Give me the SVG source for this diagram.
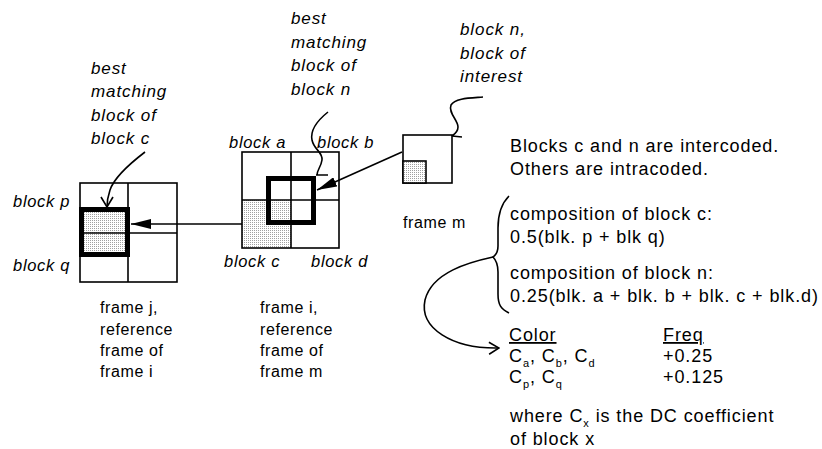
<svg xmlns="http://www.w3.org/2000/svg" width="822" height="449" viewBox="0 0 822 449">
  <defs>
    <!-- fine stipple used for shaded blocks -->
    <pattern id="dots" width="2" height="2" patternUnits="userSpaceOnUse">
      <rect width="2" height="2" fill="#fff"/>
      <rect width="1" height="1" fill="#a0a0a0"/>
    </pattern>
    <marker id="solid" viewBox="0 0 20 10" refX="20" refY="5" markerWidth="20" markerHeight="10" markerUnits="userSpaceOnUse" orient="auto">
      <path d="M0,0 L20,5 L0,10 Z" fill="#000"/>
    </marker>
    <marker id="open" viewBox="0 0 12 14" refX="11" refY="7" markerWidth="12" markerHeight="14" markerUnits="userSpaceOnUse" orient="auto">
      <path d="M1,1 L11,7 L1,13" fill="none" stroke="#000" stroke-width="1.6"/>
    </marker>
  </defs>
  <style>
    .box { fill: none; stroke: #000; stroke-width: 1.6; }
    .thick { fill: none; stroke: #000; stroke-width: 5; }
    .shade { fill: url(#dots); }
    .wire { fill: none; stroke: #000; stroke-width: 1.6; }
    text { font-family: "Liberation Sans", Arial, sans-serif; fill: #000; }
    .it { font-size: 17px; font-style: italic; letter-spacing: 0.9px; }
    .lb { font-size: 16.5px; font-style: italic; letter-spacing: 0.7px; }
    .fr { font-size: 16px; letter-spacing: 0.6px; }
    .tx { font-size: 18px; letter-spacing: 0.9px; }
    .sub { font-size: 11px; }
  </style>

  <!-- frame j -->
  <g id="frame-j">
    <rect class="shade" x="80" y="208" width="48" height="48"/>
    <rect class="box" x="80" y="183" width="97" height="99"/>
    <line class="box" x1="128" y1="183" x2="128" y2="282"/>
    <line class="box" x1="80" y1="233" x2="177" y2="233"/>
    <rect class="thick" x="81.5" y="209.5" width="46" height="45"/>
    <text class="lb" x="13" y="207">block p</text>
    <text class="lb" x="13" y="271">block q</text>
    <text class="fr" x="100" y="313">frame j,</text>
    <text class="fr" x="100" y="335">reference</text>
    <text class="fr" x="100" y="356">frame of</text>
    <text class="fr" x="100" y="377">frame i</text>
  </g>

  <!-- frame i -->
  <g id="frame-i">
    <rect class="shade" x="242" y="200" width="49" height="48"/>
    <rect class="box" x="242" y="152" width="97" height="96"/>
    <line class="box" x1="291" y1="152" x2="291" y2="248"/>
    <line class="box" x1="242" y1="200" x2="339" y2="200"/>
    <rect class="thick" x="268.5" y="178.5" width="45" height="44"/>
    <text class="lb" x="229" y="148">block a</text>
    <text class="lb" x="317" y="148">block b</text>
    <text class="lb" x="224" y="267">block c</text>
    <text class="lb" x="311" y="267">block d</text>
    <text class="fr" x="260" y="313">frame i,</text>
    <text class="fr" x="260" y="335">reference</text>
    <text class="fr" x="260" y="356">frame of</text>
    <text class="fr" x="260" y="377">frame m</text>
  </g>

  <!-- frame m -->
  <g id="frame-m">
    <rect class="box" x="403" y="135" width="49" height="48"/>
    <rect class="shade" x="403" y="161" width="23" height="22"/>
    <rect class="box" x="403" y="161" width="23" height="22"/>
    <text class="fr" x="403" y="228">frame m</text>
  </g>

  <!-- callout labels -->
  <g id="label-c">
    <text class="it" x="91" y="74">best</text>
    <text class="it" x="91" y="97">matching</text>
    <text class="it" x="91" y="121">block of</text>
    <text class="it" x="91" y="144">block c</text>
  </g>
  <g id="label-n">
    <text class="it" x="291" y="24">best</text>
    <text class="it" x="291" y="48">matching</text>
    <text class="it" x="291" y="71">block of</text>
    <text class="it" x="291" y="95">block n</text>
  </g>
  <g id="label-interest">
    <text class="it" x="460" y="35">block n,</text>
    <text class="it" x="460" y="59">block of</text>
    <text class="it" x="460" y="82">interest</text>
  </g>

  <!-- notes -->
  <g id="notes">
    <text class="tx" x="510" y="152">Blocks c and n are intercoded.</text>
    <text class="tx" x="510" y="175">Others are intracoded.</text>
    <text class="tx" x="510" y="220">composition of block c:</text>
    <text class="tx" x="510" y="243">0.5(blk. p + blk q)</text>
    <text class="tx" x="510" y="279">composition of block n:</text>
    <text class="tx" x="510" y="302">0.25(blk. a + blk. b + blk. c + blk.d)</text>
    <path class="wire" d="M509,196 C501,204 498,214 498,228 L498,246 C498,252 496,255 493,257 C496,260 498,264 498,272 L498,294 C498,305 501,309 509,313"/>
  </g>

  <!-- coefficient table -->
  <g id="table">
    <text class="tx" x="509" y="341" text-decoration="underline">Color</text>
    <text class="tx" x="663" y="341" text-decoration="underline">Freq</text>
    <text class="tx" x="509" y="362">C<tspan class="sub" dy="5">a</tspan><tspan dy="-5">, C</tspan><tspan class="sub" dy="5">b</tspan><tspan dy="-5">, C</tspan><tspan class="sub" dy="5">d</tspan></text>
    <text class="tx" x="663" y="362">+0.25</text>
    <text class="tx" x="509" y="383">C<tspan class="sub" dy="5">p</tspan><tspan dy="-5">, C</tspan><tspan class="sub" dy="5">q</tspan></text>
    <text class="tx" x="663" y="383">+0.125</text>
    <text class="tx" x="510" y="422">where C<tspan class="sub" dy="5">x</tspan><tspan dy="-5"> is the DC coefficient</tspan></text>
    <text class="tx" x="510" y="445">of block x</text>
  </g>

  <!-- connectors -->
  <g id="connectors">
    <line class="wire" x1="402" y1="152" x2="317" y2="190" marker-end="url(#solid)"/>
    <line class="wire" x1="242" y1="224" x2="131" y2="224" marker-end="url(#solid)"/>
    <path class="wire" d="M145,152 C128,165 114,178 110,190 C108,196 107,201 107,207" marker-end="url(#open)"/>
    <path class="wire" d="M328,112 C318,120 310,130 312,140 C314,150 323,152 322,160 C321,167 317,170 317,175 M316,175 L328,175"/>
    <path class="wire" d="M483,97 C470,98 455,98 451,105 C448,113 458,120 458,127 C458,131 455,134 452,136 M452,136 L462,137"/>
    <path class="wire" d="M493,257 C470,262 432,272 425,300 C419,328 452,349 499,348" marker-end="url(#open)"/>
  </g>
</svg>
